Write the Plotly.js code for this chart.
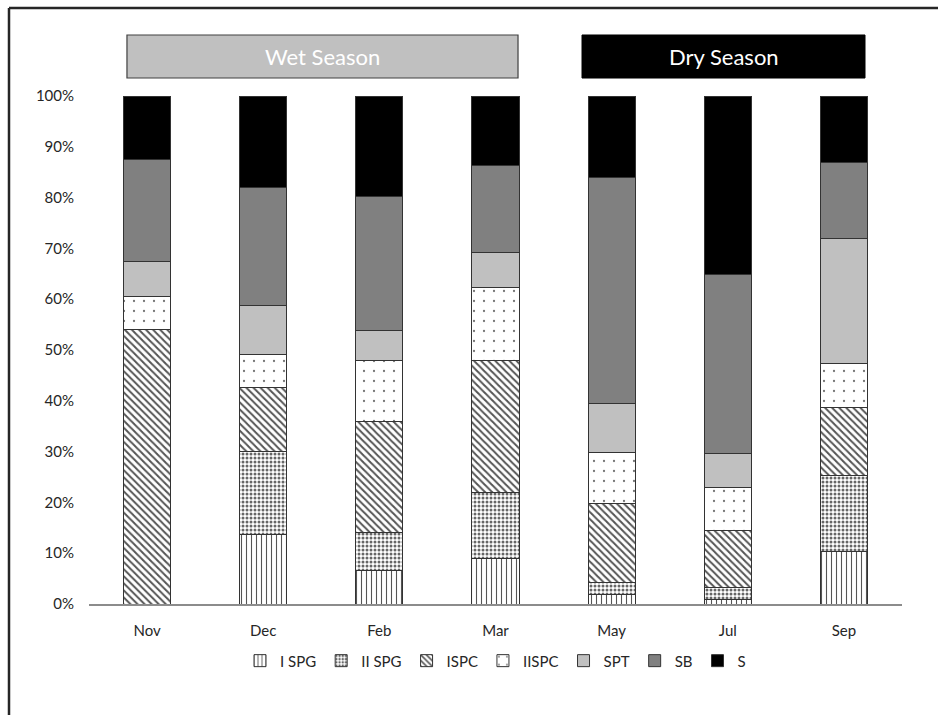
<!DOCTYPE html>
<html>
<head>
<meta charset="utf-8">
<script src="https://cdn.plot.ly/plotly-3.0.1.min.js"></script>
<style>
  html, body { margin: 0; padding: 0; background: #ffffff; }
  #chart { width: 938px; height: 715px; }
</style>
</head>
<body>
<div id="chart"></div>
<script>
// Sampling months
const months = ["Nov", "Dec", "Feb", "Mar", "May", "Jul", "Sep"];

// Share of each group per month (%)
const iSPG   = [0.0, 13.6,  6.6,  8.9,  1.9,  0.9, 10.4];
const iiSPG  = [0.0, 16.5,  7.4, 13.0,  2.3,  2.4, 14.9];
const iSPC   = [54.0, 12.6, 22.0, 26.0, 15.6, 11.1, 13.4];
const iiSPC  = [6.6,  6.4, 11.9, 14.4, 10.0,  8.6,  8.7];
const sPT    = [6.8,  9.6,  5.9,  6.9,  9.6,  6.7, 24.6];
const sB     = [20.1, 23.3, 26.5, 17.2, 44.6, 35.1, 15.0];
const s      = [12.5, 18.0, 19.7, 13.6, 16.0, 35.2, 13.0];

const seriesNames = ["I SPG", "II SPG", "ISPC", "IISPC", "SPT", "SB", "S"];
const seriesValues = [iSPG, iiSPG, iSPC, iiSPC, sPT, sB, s];

// Season header labels
const seasonLabels = ["Wet Season", "Dry Season"];

const outline = { color: "#333333", width: 1 };

const styles = [
  { color: "#ffffff", pattern: { shape: "|", size: 5, solidity: 0.22, fgcolor: "#555555", bgcolor: "#ffffff" } },
  { color: "#ffffff", pattern: { shape: ".", size: 4, solidity: 0.45, fgcolor: "#666666", bgcolor: "#ffffff" } },
  { color: "#ffffff", pattern: { shape: "\\", size: 5, solidity: 0.4, fgcolor: "#555555", bgcolor: "#ffffff" } },
  { color: "#ffffff", pattern: { shape: ".", size: 10, solidity: 0.04, fgcolor: "#777777", bgcolor: "#ffffff" } },
  { color: "#c0c0c0" },
  { color: "#808080" },
  { color: "#000000" }
];

const traces = seriesNames.map((name, i) => {
  const marker = Object.assign({ line: outline }, styles[i]);
  return {
    type: "bar",
    name: name,
    x: months,
    y: seriesValues[i],
    marker: marker,
    width: 0.405,
    hoverinfo: "x+y+name"
  };
});

const font = "Lato, 'Open Sans', sans-serif";

const layout = {
  width: 938,
  height: 715,
  margin: { l: 89, r: 36, t: 96, b: 111 },
  paper_bgcolor: "#ffffff",
  plot_bgcolor: "#ffffff",
  barmode: "stack",
  font: { family: font, size: 15, color: "#262626" },
  showlegend: true,
  legend: {
    orientation: "h",
    traceorder: "normal",
    x: 0.5, xanchor: "center",
    y: -0.112, yanchor: "middle",
    font: { family: font, size: 15, color: "#262626" },
    itemwidth: 30,
    tracegroupgap: 0
  },
  xaxis: {
    type: "category",
    showgrid: false,
    zeroline: false,
    showline: true,
    linecolor: "#8c8c8c",
    linewidth: 1.5,
    ticks: "",
    ticklabelstandoff: 12,
    tickfont: { family: font, size: 15, color: "#262626" },
    fixedrange: true
  },
  yaxis: {
    range: [0, 100],
    dtick: 10,
    ticksuffix: "%",
    showgrid: false,
    zeroline: false,
    showline: false,
    ticks: "",
    ticklabelstandoff: 14,
    tickfont: { family: font, size: 15, color: "#262626" },
    fixedrange: true
  },
  shapes: [
    // outer frame (top and left edges)
    { type: "line", xref: "paper", yref: "paper", x0: -0.0984, x1: 1.1, y0: 1.173, y1: 1.173,
      line: { color: "#262626", width: 2.5 } },
    { type: "line", xref: "paper", yref: "paper", x0: -0.0984, x1: -0.0984, y0: 1.173, y1: -0.25,
      line: { color: "#262626", width: 2.5 } },
    // season header boxes
    { type: "rect", xref: "paper", yref: "paper", x0: 0.0467, x1: 0.5277, y0: 1.0354, y1: 1.1201,
      fillcolor: "#c0c0c0", line: { color: "#404040", width: 1.2 } },
    { type: "rect", xref: "paper", yref: "paper", x0: 0.6064, x1: 0.9545, y0: 1.0354, y1: 1.1201,
      fillcolor: "#000000", line: { color: "#000000", width: 1 } }
  ],
  annotations: [
    { xref: "paper", yref: "paper", x: (0.0467 + 0.5277) / 2, y: (1.0354 + 1.1201) / 2,
      text: seasonLabels[0], showarrow: false, xanchor: "center", yanchor: "middle",
      font: { family: font, size: 22, color: "#ffffff" } },
    { xref: "paper", yref: "paper", x: (0.6064 + 0.9545) / 2, y: (1.0354 + 1.1201) / 2,
      text: seasonLabels[1], showarrow: false, xanchor: "center", yanchor: "middle",
      font: { family: font, size: 22, color: "#ffffff" } }
  ]
};

Plotly.newPlot("chart", traces, layout, { displayModeBar: false, staticPlot: true });
</script>
</body>
</html>
